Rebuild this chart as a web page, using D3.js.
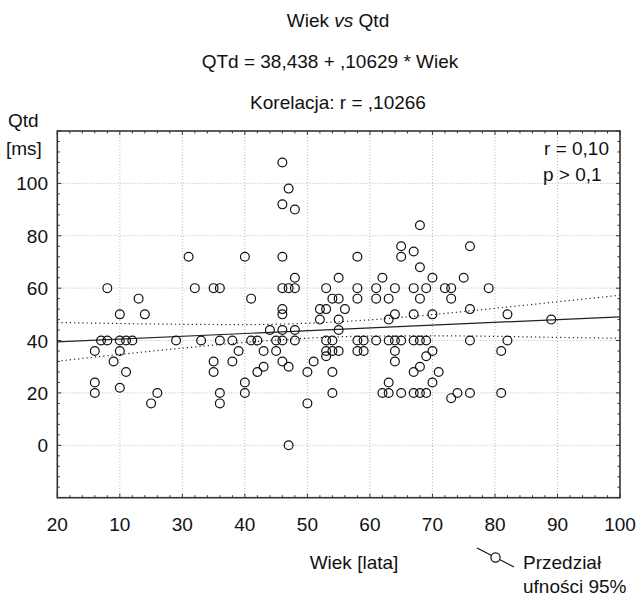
<!DOCTYPE html>
<html><head><meta charset="utf-8">
<script src="https://cdn.jsdelivr.net/npm/d3@7"></script>
<style>html,body{margin:0;padding:0;background:#fff;} svg{display:block;} text{font-family:"Liberation Sans",Arial,sans-serif;fill:#111;}</style>
</head><body>
<svg id="chart" width="644" height="597"></svg>
<script>
// ---- data ----
const ages = [16,16,16,17,18,18,19,20,20,20,20,21,21,22,23,24,25,26,29,31,32,33,35,35,35,
  36,36,36,36,38,38,39,40,40,40,41,41,42,42,43,43,44,45,45,
  46,46,46,46,46,46,46,46,46,47,47,47,47,48,48,48,48,48,50,50,51,52,52,
  53,53,53,53,53,54,54,54,54,54,55,55,55,55,55,56,58,58,58,58,58,59,59,
  61,61,61,62,62,63,63,63,63,63,64,64,64,64,64,65,65,65,65,
  67,67,67,67,67,67,68,68,68,68,68,68,69,69,69,69,70,70,70,70,71,72,73,73,73,74,75,
  76,76,76,76,79,81,81,82,82,89];
const qtd = [36,24,20,40,40,60,32,50,40,36,22,40,28,40,56,50,16,20,40,72,60,40,60,32,28,
  60,40,20,16,40,32,36,72,24,20,56,40,40,28,36,30,44,40,36,
  108,92,72,60,52,50,44,40,32,98,60,30,0,90,64,60,44,40,28,16,32,52,48,
  60,52,40,36,34,56,40,36,28,20,64,56,48,44,36,52,72,60,56,40,36,40,36,
  60,56,40,64,20,56,48,40,24,20,60,50,40,36,32,76,72,40,20,
  74,60,50,40,28,20,84,68,56,40,30,20,60,40,34,20,64,50,36,24,28,60,60,56,18,20,64,
  76,52,40,20,60,36,20,50,40,48];
const fitX = [10, 100];
const fitY = [39.50, 49.07];
const ciX = [10,20,30,40,50,60,70,80,90,100];
const ciUpper = [46.9,46.5,46.2,46.1,46.6,47.9,49.9,52.3,54.8,57.3];
const ciLower = [32.1,34.7,37.1,39.3,40.9,41.7,41.8,41.6,41.2,40.9];
const xTicks = [10,20,30,40,50,60,70,80,90,100];
const xTickLabels = ["20","10","30","40","50","60","70","80","90","100"];
const yTicks = [0,20,40,60,80,100];
const titles = ["Wiek vs Qtd","QTd = 38,438 + ,10629 * Wiek","Korelacja: r = ,10266"];

// ---- layout ----
const svg = d3.select("#chart");
const L = 57.3, R = 620, T = 131, B = 497.7;
const x = d3.scaleLinear().domain([10,100]).range([L,R]);
const y = d3.scaleLinear().domain([-20,120]).range([B,T]);
const FS = 19;

// grid
const g = svg.append("g");
g.selectAll(".vg").data(xTicks.filter(d=>d>10 && d<100)).join("line")
  .attr("x1",d=>x(d)).attr("x2",d=>x(d)).attr("y1",T).attr("y2",B)
  .attr("stroke","#b8b8b8").attr("stroke-width",1).attr("stroke-dasharray","1,2");
g.selectAll(".hg").data(yTicks).join("line")
  .attr("x1",L).attr("x2",R).attr("y1",d=>y(d)).attr("y2",d=>y(d))
  .attr("stroke","#b8b8b8").attr("stroke-width",1).attr("stroke-dasharray","1,2");

// confidence band & fit
const line = d3.line().x(d=>x(d[0])).y(d=>y(d[1])).curve(d3.curveMonotoneX);
[ciUpper, ciLower].forEach(arr=>{
  svg.append("path").datum(ciX.map((v,i)=>[v,arr[i]])).attr("d",line)
    .attr("fill","none").attr("stroke","#222").attr("stroke-width",1.2).attr("stroke-dasharray","1.2,3");
});
svg.append("path").datum(fitX.map((v,i)=>[v,fitY[i]])).attr("d",d3.line().x(d=>x(d[0])).y(d=>y(d[1])))
  .attr("fill","none").attr("stroke","#222").attr("stroke-width",1.2);

// points
svg.append("g").selectAll("circle").data(ages.map((a,i)=>[a,qtd[i]])).join("circle")
  .attr("cx",d=>x(d[0])).attr("cy",d=>y(d[1])).attr("r",4.4)
  .attr("fill","none").attr("stroke","#111").attr("stroke-width",1.2);

// axes (ticks inside)
const minorX = d3.range(10,100.01,2), minorY = d3.range(-20,120.01,4);
const ax = svg.append("g").attr("stroke","#333").attr("stroke-width",1);
minorX.forEach(v=>{
  const len = (v%10===0)?4:2.5;
  ax.append("line").attr("x1",x(v)).attr("x2",x(v)).attr("y1",T).attr("y2",T+len);
  ax.append("line").attr("x1",x(v)).attr("x2",x(v)).attr("y1",B).attr("y2",B-len);
});
minorY.forEach(v=>{
  const len = (v%20===0)?4:2.5;
  ax.append("line").attr("x1",L).attr("x2",L+len).attr("y1",y(v)).attr("y2",y(v));
  ax.append("line").attr("x1",R).attr("x2",R-len).attr("y1",y(v)).attr("y2",y(v));
});
svg.append("rect").attr("x",L).attr("y",T).attr("width",R-L).attr("height",B-T)
  .attr("fill","none").attr("stroke","#333").attr("stroke-width",1.6);

// tick labels
svg.append("g").selectAll("text").data(xTicks).join("text")
  .attr("x",d=>x(d)).attr("y",531).attr("text-anchor","middle").attr("font-size",FS)
  .text((d,i)=>xTickLabels[i]);
svg.append("g").selectAll("text").data(yTicks).join("text")
  .attr("x",48).attr("y",d=>y(d)+7).attr("text-anchor","end").attr("font-size",FS)
  .text(d=>d);

// titles
svg.append("text").attr("x",338).attr("y",27).attr("text-anchor","middle").attr("font-size",FS)
  .html('Wiek <tspan font-style="italic">vs</tspan> Qtd');
svg.append("text").attr("x",330).attr("y",68).attr("text-anchor","middle").attr("font-size",FS).text(titles[1]);
svg.append("text").attr("x",338).attr("y",109).attr("text-anchor","middle").attr("font-size",FS).text(titles[2]);

// axis titles
svg.append("text").attr("x",8).attr("y",127).attr("font-size",FS).text("Qtd");
svg.append("text").attr("x",6).attr("y",155).attr("font-size",FS).text("[ms]");
svg.append("text").attr("x",354).attr("y",569).attr("text-anchor","middle").attr("font-size",FS).text("Wiek [lata]");

// stats
svg.append("text").attr("x",609).attr("y",155).attr("text-anchor","end").attr("font-size",FS).text("r = 0,10");
svg.append("text").attr("x",543).attr("y",181).attr("font-size",FS).text("p > 0,1");

// legend
svg.append("line").attr("x1",477).attr("y1",548).attr("x2",514).attr("y2",567).attr("stroke","#111").attr("stroke-width",1.2);
svg.append("circle").attr("cx",495.5).attr("cy",557.5).attr("r",4.6).attr("fill","#fff").attr("stroke","#111").attr("stroke-width",1.2);
svg.append("text").attr("x",523).attr("y",569).attr("font-size",FS).text("Przedział");
svg.append("text").attr("x",523).attr("y",593).attr("font-size",FS).text("ufności 95%");
</script>
</body></html>
